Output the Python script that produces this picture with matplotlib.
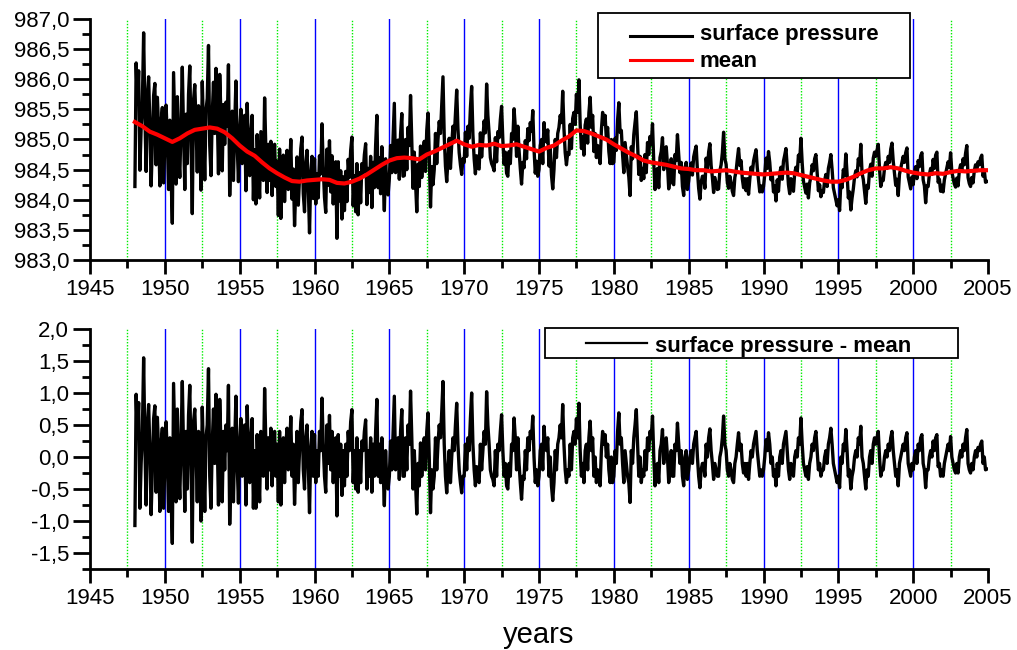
import numpy as np
import matplotlib.pyplot as plt
from matplotlib.patches import Rectangle
from matplotlib.ticker import MultipleLocator, FuncFormatter

plt.rcParams['font.family'] = ['Liberation Sans', 'DejaVu Sans']

# surface pressure minus mean, monthly (1948.0 ... 2004.92), hPa
residual_rows = [
    [-1.07, 0.98, 0.30, 0.85, -0.80, -0.10, 0.40, 1.55, 0.20, -0.75, 0.50, 0.82],     # 1948
    [0.10, -0.90, -0.20, 0.60, 0.80, -0.55, 0.62, 0.10, -0.85, 0.20, 0.45, -0.80],
    [-0.10, 0.55, 0.00, -0.85, 0.30, -0.60, -1.35, 1.15, 0.20, -0.70, 0.75, -0.20],   # 1950
    [-0.65, 0.30, 1.18, 0.10, -0.85, 0.40, -0.50, 0.65, 1.12, -0.10, -1.33, 0.55],
    [0.75, 0.10, -0.70, 0.40, -0.20, -1.00, 0.78, 0.00, -0.85, 0.30, 0.50, 1.38],
    [-0.30, -0.80, 0.20, 0.75, -0.10, 0.98, 0.30, -0.75, 0.90, 0.20, -0.70, 0.40],
    [-0.20, 0.50, 0.10, 1.12, -1.05, -0.20, 0.45, -0.70, 0.20, 0.95, -0.10, -0.72],
    [0.20, 0.60, -0.30, -0.10, 0.50, -0.75, 0.80, 0.10, -0.40, 0.30, 0.60, -0.80],    # 1955
    [0.10, -0.80, 0.35, -0.20, -0.70, 0.40, 0.10, -0.30, 1.07, 0.20, -0.50, 0.30],
    [-0.20, 0.45, -0.45, 0.10, 0.40, -0.30, 0.20, -0.70, 0.40, -0.75, -0.10, 0.30],
    [-0.40, 0.20, 0.45, -0.20, 0.10, 0.63, -0.30, 0.20, -0.74, -0.10, 0.40, -0.40],
    [0.10, 0.55, 0.74, -0.20, -0.50, 0.30, 0.50, -0.10, -0.87, 0.10, 0.40, -0.30],
    [0.35, -0.40, 0.10, -0.30, 0.40, 0.10, 0.92, 0.20, -0.30, -0.55, 0.50, -0.10],    # 1960
    [0.65, -0.20, 0.40, -0.40, 0.10, 0.30, -0.92, 0.35, -0.30, 0.20, -0.60, 0.10],
    [-0.45, 0.20, -0.30, 0.40, 0.10, 0.55, 0.74, -0.40, 0.10, -0.50, 0.30, -0.55],
    [0.10, -0.40, 0.25, 0.10, 0.40, 0.58, -0.50, 0.10, -0.30, 0.30, -0.55, 0.20],
    [-0.30, 0.40, 0.90, -0.30, 0.20, -0.40, 0.30, -0.20, -0.76, 0.10, -0.40, -0.50],
    [-0.30, 0.25, -0.20, 0.40, 0.95, -0.20, 0.10, 0.30, -0.35, 0.40, 0.74, -0.30],    # 1965
    [-0.30, 0.30, -0.20, 0.50, 0.20, 1.03, 0.30, -0.50, 0.10, -0.40, -0.89, -0.10],
    [-0.45, 0.22, -0.30, 0.10, 0.30, -0.20, 0.40, 0.69, 0.00, -0.87, -0.20, -0.50],
    [-0.30, 0.30, -0.20, 0.20, 0.50, 0.30, 0.70, 1.18, 0.20, -0.30, -0.56, -0.20],
    [0.10, -0.40, 0.00, 0.30, 0.10, 0.50, 0.84, 0.20, -0.20, -0.40, -0.56, -0.30],
    [-0.30, 0.20, -0.20, 0.30, 0.10, 0.60, 1.00, 0.20, -0.20, -0.45, -0.15, -0.35],   # 1970
    [-0.40, 0.20, -0.20, 0.10, 0.40, 0.20, 1.02, 0.50, 0.20, -0.20, -0.30, -0.35],
    [-0.45, 0.10, -0.30, 0.20, 0.10, 0.40, 0.66, 0.10, -0.30, -0.10, -0.45, -0.50],
    [-0.10, -0.30, 0.20, 0.10, 0.61, 0.30, -0.20, 0.30, -0.10, -0.40, -0.66, -0.30],
    [-0.35, 0.10, -0.20, 0.30, 0.10, 0.40, 0.30, 0.64, 0.00, -0.40, -0.20, -0.45],
    [-0.30, 0.10, 0.20, -0.20, 0.48, 0.20, 0.10, 0.30, -0.30, 0.00, -0.45, -0.68],    # 1975
    [-0.40, 0.10, -0.20, 0.20, 0.30, 0.50, 0.30, 0.82, 0.20, -0.20, -0.40, -0.20],
    [-0.30, 0.20, -0.20, 0.30, 0.40, 0.20, 0.60, 0.30, 0.84, 0.10, -0.30, -0.10],
    [-0.40, 0.10, 0.20, -0.20, 0.30, 0.56, 0.10, 0.30, -0.30, 0.00, -0.40, -0.20],
    [-0.30, -0.45, 0.10, 0.40, 0.20, 0.35, 0.00, 0.20, -0.20, -0.40, 0.00, -0.40],
    [-0.30, 0.10, -0.10, 0.40, 0.69, 0.20, 0.30, -0.10, -0.40, 0.10, -0.10, -0.30],   # 1980
    [-0.40, -0.71, 0.10, -0.10, 0.30, 0.50, 0.74, 0.20, -0.30, 0.00, -0.40, -0.20],
    [-0.30, 0.10, -0.20, 0.30, 0.10, 0.40, 0.30, 0.64, 0.00, -0.45, -0.20, -0.10],
    [-0.40, 0.10, 0.20, 0.43, -0.10, 0.20, 0.30, 0.00, -0.40, -0.20, 0.10, -0.30],
    [-0.30, 0.20, 0.10, 0.53, 0.20, -0.10, 0.10, -0.30, -0.45, 0.00, 0.10, -0.35],
    [-0.20, 0.00, 0.10, -0.10, 0.20, 0.30, 0.40, 0.00, -0.30, -0.48, -0.20, -0.10],   # 1985
    [-0.10, -0.30, 0.20, 0.00, 0.30, 0.44, 0.10, -0.10, -0.35, -0.10, -0.20, -0.30],
    [-0.30, 0.00, 0.10, 0.30, 0.64, 0.20, 0.10, -0.20, -0.30, -0.10, -0.20, -0.35],
    [-0.40, -0.10, 0.00, 0.20, 0.38, 0.10, 0.20, -0.10, -0.25, -0.10, -0.30, -0.10],
    [-0.35, -0.10, 0.10, 0.00, 0.20, 0.30, 0.40, 0.10, -0.10, -0.30, -0.20, -0.30],
    [-0.20, 0.00, 0.27, 0.10, 0.38, 0.20, -0.10, 0.00, -0.30, -0.20, -0.45, -0.10],   # 1990
    [-0.30, 0.00, 0.10, -0.10, 0.20, 0.30, 0.40, 0.10, -0.20, -0.35, -0.10, -0.20],
    [-0.30, 0.00, 0.10, 0.00, 0.30, 0.20, 0.61, 0.20, -0.10, -0.20, -0.30, -0.15],
    [-0.35, -0.10, 0.00, 0.20, 0.10, 0.30, 0.40, 0.10, -0.20, -0.10, -0.30, -0.20],
    [-0.20, 0.00, 0.10, -0.10, 0.20, 0.30, 0.45, 0.20, -0.10, -0.20, -0.30, -0.40],
    [-0.30, -0.48, 0.00, -0.10, 0.20, 0.10, 0.43, 0.10, -0.30, -0.20, -0.50, -0.30],  # 1995
    [-0.20, 0.00, 0.10, 0.00, 0.30, 0.20, 0.48, 0.00, -0.10, -0.30, -0.50, -0.20],
    [-0.30, 0.00, 0.10, -0.10, 0.20, 0.30, 0.20, 0.30, 0.40, 0.00, -0.30, -0.20],
    [-0.20, 0.00, 0.10, 0.00, 0.20, 0.10, 0.30, 0.40, 0.10, -0.10, -0.30, -0.20],
    [-0.45, -0.10, 0.00, 0.10, 0.20, 0.10, 0.30, 0.38, -0.10, -0.20, -0.30, -0.10],
    [-0.20, 0.00, 0.10, -0.10, 0.20, 0.10, 0.30, 0.35, -0.10, -0.20, -0.48, -0.20],   # 2000
    [-0.20, 0.00, 0.10, 0.00, 0.25, 0.10, 0.30, 0.35, -0.15, -0.10, -0.30, -0.20],
    [-0.30, -0.10, 0.00, 0.10, 0.20, 0.10, 0.32, 0.00, -0.10, -0.20, -0.25, -0.10],
    [-0.25, 0.00, 0.10, 0.00, 0.20, 0.10, 0.30, 0.43, -0.10, -0.20, -0.25, -0.10],
    [-0.20, 0.00, 0.10, 0.00, 0.15, 0.10, 0.20, 0.25, -0.10, 0.00, -0.20, -0.19],    # 2004
]

# running mean of surface pressure, every half year from 1948.0 to 2005.0, hPa
mean_rows = [
    [985.29, 985.22], [985.13, 985.08], [985.02, 984.96], [985.02, 985.10],  # 1948-51
    [985.16, 985.18], [985.20, 985.18], [985.12, 985.02], [984.90, 984.80],  # 1952-55
    [984.73, 984.62], [984.52, 984.44], [984.37, 984.31], [984.30, 984.32],  # 1956-59
    [984.33, 984.34], [984.33, 984.28], [984.27, 984.30], [984.35, 984.42],  # 1960-63
    [984.50, 984.58], [984.65, 984.69], [984.70, 984.69], [984.67, 984.75],  # 1964-67
    [984.80, 984.86], [984.92, 984.98], [984.92, 984.88], [984.91, 984.90],  # 1968-71
    [984.93, 984.89], [984.90, 984.92], [984.88, 984.84], [984.80, 984.86],  # 1972-75
    [984.90, 984.98], [985.05, 985.15], [985.14, 985.10], [985.05, 985.00],  # 1976-79
    [984.92, 984.85], [984.78, 984.72], [984.65, 984.62], [984.60, 984.58],  # 1980-83
    [984.55, 984.52], [984.51, 984.49], [984.49, 984.47], [984.48, 984.49],  # 1984-87
    [984.47, 984.45], [984.44, 984.43], [984.42, 984.43], [984.44, 984.45],  # 1988-91
    [984.44, 984.41], [984.38, 984.35], [984.32, 984.30], [984.30, 984.33],  # 1992-95
    [984.38, 984.44], [984.49, 984.52], [984.52, 984.54], [984.52, 984.48],  # 1996-99
    [984.45, 984.43], [984.42, 984.44], [984.43, 984.46], [984.48, 984.47],  # 2000-03
    [984.48, 984.49], [984.49],                                              # 2004-05
]

residual = np.concatenate(residual_rows)
t_res = 1948 + np.arange(residual.size) / 12.0
mean = np.concatenate(mean_rows)
t_mean = 1948 + 0.5 * np.arange(mean.size)
# each half-year mean applies to the six months inside that half year
pressure = residual + np.repeat(mean[:-1], 6)

comma = FuncFormatter(lambda v, pos: ('%.1f' % v).replace('.', ','))


def style_axes(ax, ymin, ymax):
    ax.set_xlim(1945, 2005)
    ax.set_ylim(ymin, ymax)
    for yr in np.arange(1950, 2001, 5):
        ax.axvline(yr, color='#0000ff', lw=1.0, zorder=1)
    for yr in np.arange(1947.5, 2003, 5):
        ax.axvline(yr, color='#00ee00', lw=1.0, ls=(0, (1, 1.2)), zorder=1)
    for s in ['top', 'right']:
        ax.spines[s].set_visible(False)
    for s in ['left', 'bottom']:
        ax.spines[s].set_linewidth(2)
    ax.xaxis.set_major_locator(MultipleLocator(5))
    ax.xaxis.set_minor_locator(MultipleLocator(2.5))
    ax.yaxis.set_major_locator(MultipleLocator(0.5))
    ax.yaxis.set_minor_locator(MultipleLocator(0.25))
    ax.yaxis.set_major_formatter(comma)
    ax.tick_params(axis='both', which='major', direction='out', width=2, labelsize=16)
    ax.tick_params(axis='x', which='major', length=10, pad=4)
    ax.tick_params(axis='y', which='major', length=12, pad=3)
    ax.tick_params(axis='both', which='minor', direction='out', width=2, length=6)


def key_box(ax, box, rows, lh):
    # box: (x0, y0, x1, y1) in axes fraction; rows: (y_line, y_text, color, label)
    x0, y0, x1, y1 = box
    ax.add_patch(Rectangle((x0, y0), x1 - x0, y1 - y0, transform=ax.transAxes,
                           facecolor='white', edgecolor='black', lw=1.3,
                           zorder=5, clip_on=False))
    for yl, yt, color, label in rows:
        ax.plot(lh[:2], [yl, yl], color=color, lw=lh[2], transform=ax.transAxes,
                zorder=6, clip_on=False)
        ax.text(lh[1] + 0.009, yt, label, transform=ax.transAxes, fontsize=16,
                fontweight='bold', va='baseline', ha='left', zorder=7)


fig = plt.figure(figsize=(10.17, 6.5), dpi=100)

ax1 = fig.add_axes([0.0885, 0.600, 0.883, 0.3708])
style_axes(ax1, 983.0, 987.0)
ax1.plot(t_res, pressure, color='black', lw=2.4, zorder=2)
ax1.plot(t_mean, mean, color='red', lw=3.0, zorder=3)
key_box(ax1, (0.5657, 0.7552, 0.9131, 1.0249),
        [(0.9281, 0.9129, 'black', 'surface pressure'),
         (0.8299, 0.8022, 'red', 'mean')],
        (0.6010, 0.6700, 2.2))

ax2 = fig.add_axes([0.0885, 0.1246, 0.883, 0.3692])
style_axes(ax2, -1.75, 2.0)
ax2.plot(t_res, residual, color='black', lw=2.4, zorder=2)
key_box(ax2, (0.5067, 0.8792, 0.9666, 1.0042),
        [(0.9403, 0.9056, 'black', 'surface pressure - mean')],
        (0.5523, 0.6203, 1.6))
ax2.set_xlabel('years', fontsize=21, labelpad=8)

fig.savefig('out.png', dpi=100)
